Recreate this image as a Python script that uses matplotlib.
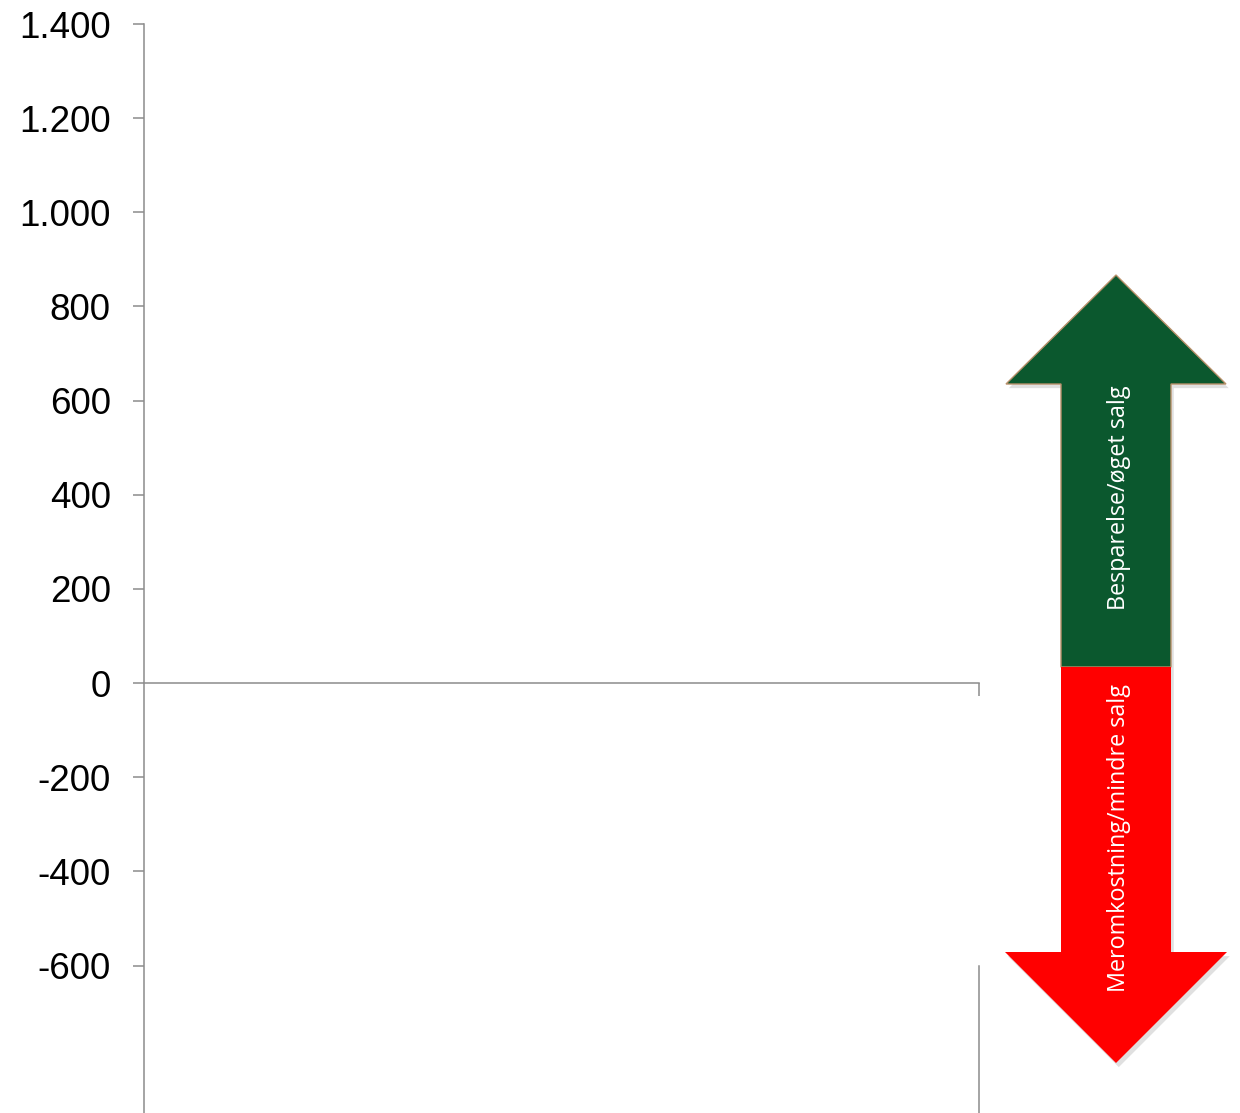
import matplotlib
matplotlib.use('Agg')
import matplotlib.pyplot as plt
import matplotlib.patheffects as pe
from matplotlib.patches import Polygon

# y-akse
y_ticks = [-600, -400, -200, 0, 200, 400, 600, 800, 1000, 1200, 1400]
y_labels = ['-600', '-400', '-200', '0', '200', '400', '600', '800', '1.000', '1.200', '1.400']
y_min, y_max = -913, 1400

up_text = 'Besparelse/øget salg'
down_text = 'Meromkostning/mindre salg'

W, H = 1240, 1113
fig = plt.figure(figsize=(W / 100, H / 100), dpi=100)
ax = fig.add_axes([144 / W, 0, (979 - 144) / W, 1 - 24 / H])

grey = '#8c8c8c'
ax.set_ylim(y_min, y_max)
ax.set_xlim(0, 1)
ax.set_yticks(y_ticks)
ax.set_yticklabels(y_labels, fontsize=26.5, family=['Liberation Sans', 'DejaVu Sans'])
ax.tick_params(axis='y', length=8, width=1.1, color=grey, pad=16)

ax.spines['top'].set_visible(False)
ax.spines['left'].set_color(grey)
ax.spines['left'].set_linewidth(1.1)
ax.spines['bottom'].set_position(('data', 0))
ax.spines['bottom'].set_color(grey)
ax.spines['bottom'].set_linewidth(1.1)
ax.spines['right'].set_color(grey)
ax.spines['right'].set_linewidth(1.1)
ax.spines['right'].set_bounds(y_min, -600)
ax.set_xticks([1])
ax.set_xticklabels([])
ax.tick_params(axis='x', length=9, width=1.1, color=grey)

# pilene til høyre, tegnet i pikselkoordinater
ov = fig.add_axes([0, 0, 1, 1])
ov.set_xlim(0, W)
ov.set_ylim(H, 0)
ov.axis('off')

shadow = [pe.SimplePatchShadow(offset=(2, -3), shadow_rgbFace='#000000', alpha=0.12), pe.Normal()]

up = Polygon([(1116, 275), (1226, 384), (1171, 384), (1171, 667),
              (1061, 667), (1061, 384), (1006, 384)], closed=True,
             facecolor='#0b582e', edgecolor='#b8906a', linewidth=1)
up.set_path_effects(shadow)
ov.add_patch(up)

down = Polygon([(1061, 667), (1171, 667), (1171, 952), (1227, 952),
                (1116, 1063), (1005, 952), (1061, 952)], closed=True,
               facecolor='#ff0000', edgecolor='none')
down.set_path_effects(shadow)
ov.add_patch(down)

ov.text(1119, 498, up_text, rotation=90, ha='center', va='center',
        color='white', fontsize=16.8, family=['Open Sans', 'DejaVu Sans'])
ov.text(1119, 838, down_text, rotation=90, ha='center', va='center',
        color='white', fontsize=16.8, family=['Open Sans', 'DejaVu Sans'])

plt.savefig('out.png', dpi=100)
